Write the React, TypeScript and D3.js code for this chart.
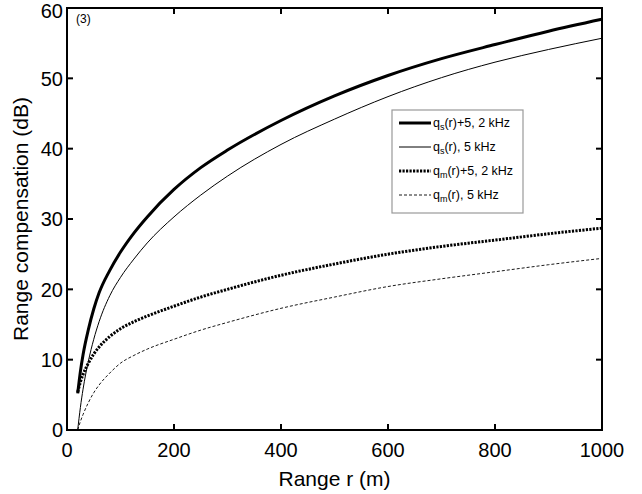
import React from "react";
import * as d3 from "d3";

// range samples (m) and the four curves (dB)
const ranges = [20, 25, 30, 40, 50, 60, 80, 100, 125, 150, 200, 250, 300, 400, 500, 600, 700, 800, 900, 1000];
const qs2k = [5.2, 8.3, 10.7, 14.3, 17.2, 19.5, 22.7, 25.3, 28.0, 30.3, 34.2, 37.3, 39.8, 44.0, 47.5, 50.4, 52.8, 54.8, 56.7, 58.4];
const qs5k = [0, 3.2, 5.8, 9.8, 12.9, 15.4, 19.1, 21.7, 24.3, 26.6, 30.3, 33.4, 36.1, 40.6, 44.2, 47.4, 50.1, 52.3, 54.1, 55.7];
const qm2k = [5.4, 6.8, 7.9, 9.5, 10.8, 11.8, 13.3, 14.4, 15.4, 16.2, 17.6, 18.9, 20.0, 22.0, 23.6, 25.0, 26.1, 27.0, 27.9, 28.7];
const qm5k = [0, 1.2, 2.2, 3.9, 5.3, 6.4, 8.1, 9.5, 10.6, 11.5, 12.9, 14.2, 15.3, 17.3, 18.9, 20.4, 21.5, 22.5, 23.5, 24.4];

const xTicks = [0, 200, 400, 600, 800, 1000];
const yTicks = [0, 10, 20, 30, 40, 50, 60];

const seriesList = [
  { sub: "s", rest: "(r)+5, 2 kHz", values: qs2k, width: 3, dash: "" },
  { sub: "s", rest: "(r), 5 kHz", values: qs5k, width: 1, dash: "" },
  { sub: "m", rest: "(r)+5, 2 kHz", values: qm2k, width: 3, dash: "2.2 1.3" },
  { sub: "m", rest: "(r), 5 kHz", values: qm5k, width: 0.9, dash: "3 2" },
];

const W = 642;
const H = 494;
const m = { left: 67, right: 40, top: 8, bottom: 64 };

export default function App() {
  const x = d3.scaleLinear().domain([0, 1000]).range([m.left, W - m.right]);
  const y = d3.scaleLinear().domain([0, 60]).range([H - m.bottom, m.top]);
  const font = "'Liberation Sans', Arial, Helvetica, sans-serif";
  const tick = 6;

  const line = (vals: number[]) =>
    d3
      .line<number>()
      .x((_, i) => x(ranges[i]))
      .y((v) => y(v))
      .curve(d3.curveMonotoneX)(vals) || "";

  const [x0, x1] = x.range();
  const [y0, y1] = y.range();

  const lg = { x: 392, y: 110, w: 131, h: 103 };

  return (
    <svg
      width={W}
      height={H}
      style={{ position: "absolute", left: 0, top: 0, background: "#fff" }}
      fontFamily={font}
    >
      <rect width={W} height={H} fill="#fff" />

      {seriesList.map((s, i) => (
        <path
          key={i}
          d={line(s.values)}
          fill="none"
          stroke="#000"
          strokeWidth={s.width}
          strokeDasharray={s.dash || undefined}
        />
      ))}

      {/* frame */}
      <rect x={x0} y={y1} width={x1 - x0} height={y0 - y1} fill="none" stroke="#000" strokeWidth={2} />

      {xTicks.map((t) => (
        <g key={"x" + t}>
          <line x1={x(t)} x2={x(t)} y1={y0} y2={y0 - tick} stroke="#000" strokeWidth={2} />
          <line x1={x(t)} x2={x(t)} y1={y1} y2={y1 + tick} stroke="#000" strokeWidth={2} />
          <text x={x(t)} y={y0 + 27} textAnchor="middle" fontSize={20}>
            {t}
          </text>
        </g>
      ))}
      {yTicks.map((t) => (
        <g key={"y" + t}>
          <line x1={x0} x2={x0 + tick} y1={y(t)} y2={y(t)} stroke="#000" strokeWidth={2} />
          <line x1={x1} x2={x1 - tick} y1={y(t)} y2={y(t)} stroke="#000" strokeWidth={2} />
          <text x={x0 - 4} y={y(t)} dy={t === 60 ? "0.5em" : "0.36em"} textAnchor="end" fontSize={20}>
            {t}
          </text>
        </g>
      ))}

      <text x={(x0 + x1) / 2} y={486} textAnchor="middle" fontSize={21}>
        Range r (m)
      </text>
      <text
        transform={`translate(28,${(y0 + y1) / 2}) rotate(-90)`}
        textAnchor="middle"
        fontSize={21}
      >
        Range compensation (dB)
      </text>

      <text x={x0 + 9} y={y1 + 15} fontSize={12}>
        (3)
      </text>

      {/* legend */}
      <rect x={lg.x} y={lg.y} width={lg.w} height={lg.h} fill="#fff" stroke="#999" strokeWidth={1.2} />
      {seriesList.map((s, i) => {
        const ly = lg.y + 13 + i * 24;
        return (
          <g key={"lg" + i}>
            <line
              x1={lg.x + 7}
              x2={lg.x + 39}
              y1={ly}
              y2={ly}
              stroke="#000"
              strokeWidth={s.width}
              strokeDasharray={s.dash || undefined}
            />
            <text x={lg.x + 41} y={ly + 4} fontSize={12.5}>
              q
              <tspan fontSize={9} dy={3}>
                {s.sub}
              </tspan>
              <tspan dy={-3}>{s.rest}</tspan>
            </text>
          </g>
        );
      })}
    </svg>
  );
}
